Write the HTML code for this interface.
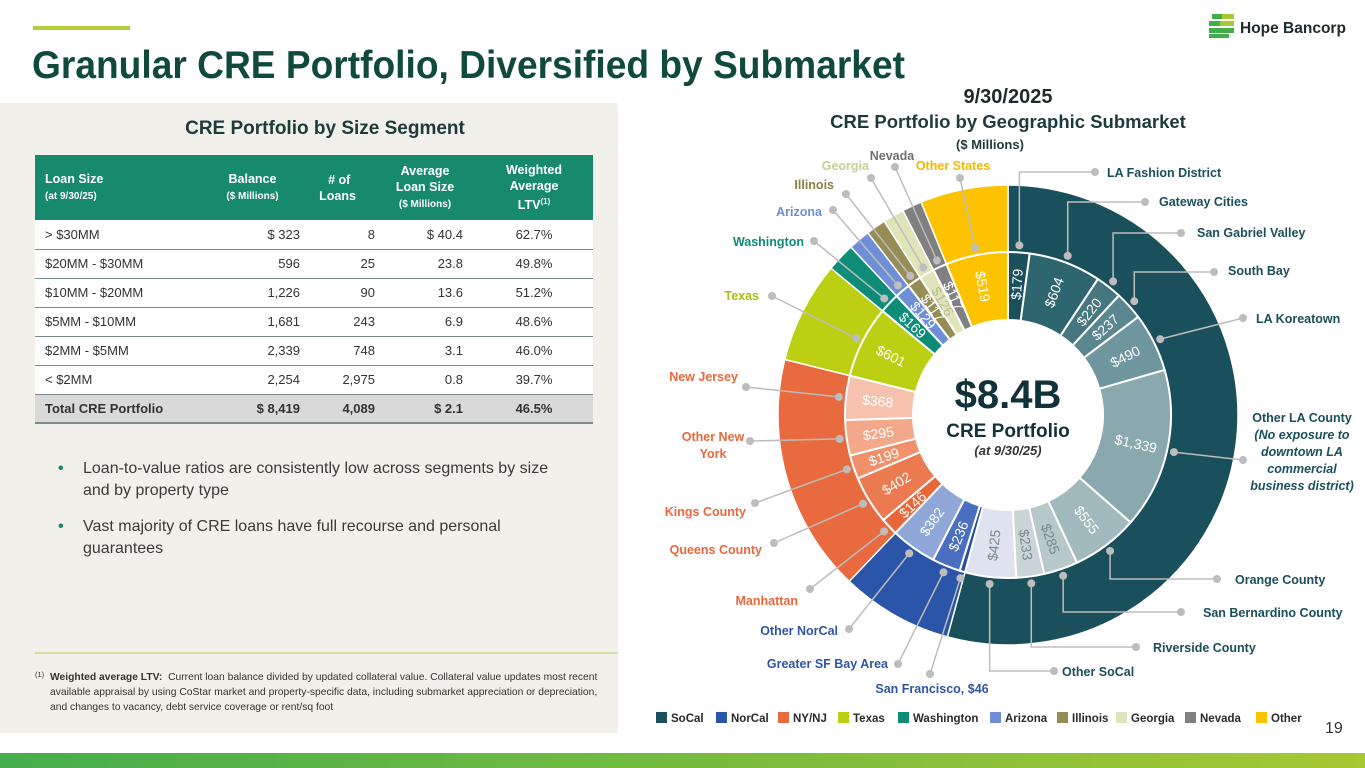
<!DOCTYPE html>
<html><head><meta charset="utf-8">
<style>
*{margin:0;padding:0;box-sizing:border-box}
body{width:1365px;height:768px;overflow:hidden;background:#fff;font-family:"Liberation Sans",sans-serif;position:relative;color:#333}
.abs{position:absolute}
#panel{left:0;top:103px;width:618px;height:630px;background:#f1f0ea}
#tbl{position:absolute;left:35px;top:155px;width:558px;border-collapse:collapse;font-size:13px;color:#333}
#tbl th{background:#17896c;color:#fff;font-weight:bold;font-size:12.5px;height:65px;line-height:16px;vertical-align:middle}
#tbl th small{font-size:10px;font-weight:bold}
#tbl td{height:29px;border-bottom:1.5px solid #7d8a8a;background:#fff;padding:0}
#tbl tr.tot td{background:#d9d9d9;font-weight:bold;border-bottom:2px solid #7d8a8a}
.r{text-align:right}
.c{text-align:center}
.bul{left:58px;font-size:16px;color:#3a3a3a;line-height:22px}
.bul span{position:absolute;left:0;color:#1a8a6e;font-weight:bold}
.bul p{margin-left:25px}
</style></head><body>
<div class="abs" style="left:33px;top:26px;width:97px;height:4px;background:#b5cc3b"></div>
<svg class="abs" style="left:0;top:0" width="1365" height="100">
<text x="32" y="78" font-family="Liberation Sans Narrow,Liberation Sans,sans-serif" font-weight="bold" font-size="39" fill="#0f4a3c" textLength="873" lengthAdjust="spacingAndGlyphs">Granular CRE Portfolio, Diversified by Submarket</text>
<g>
<path d="M1212 14 h22 v5 h-22z M1209 21 h25 v5 h-25z M1209 28 h25 v5 h-25z M1209 34 h20 v4 h-20z" fill="#3fae49"/>
<path d="M1222 14 h12 v5 h-12z M1220 21 h14 v5 h-14z" fill="#a6c832"/>
<text x="1240" y="33" font-weight="bold" font-size="15.5" fill="#1d2a2a">Hope Bancorp</text>
</g>
</svg>
<div id="panel" class="abs"></div>
<div class="abs" style="left:0;width:650px;top:118px;text-align:center;font-size:19px;font-weight:bold;color:#1d3b3a">CRE Portfolio by Size Segment</div>
<table id="tbl">
<tr><th style="text-align:left;padding-left:10px;width:170px">Loan Size<br><small>(at 9/30/25)</small></th><th style="width:95px">Balance<br><small>($ Millions)</small></th><th style="width:75px">&nbsp;# of<br>Loans</th><th style="width:100px">Average<br>Loan Size<br><small>($ Millions)</small></th><th>Weighted<br>Average<br>LTV<sup style="font-size:8px">(1)</sup></th></tr>
<tr><td style="padding-left:10px">&gt; $30MM</td><td class="r">$ 323</td><td class="r">8</td><td class="r" style="padding-right:12px">$ 40.4</td><td class="c">62.7%</td></tr>
<tr><td style="padding-left:10px">$20MM - $30MM</td><td class="r">596</td><td class="r">25</td><td class="r" style="padding-right:12px">23.8</td><td class="c">49.8%</td></tr>
<tr><td style="padding-left:10px">$10MM - $20MM</td><td class="r">1,226</td><td class="r">90</td><td class="r" style="padding-right:12px">13.6</td><td class="c">51.2%</td></tr>
<tr><td style="padding-left:10px">$5MM - $10MM</td><td class="r">1,681</td><td class="r">243</td><td class="r" style="padding-right:12px">6.9</td><td class="c">48.6%</td></tr>
<tr><td style="padding-left:10px">$2MM - $5MM</td><td class="r">2,339</td><td class="r">748</td><td class="r" style="padding-right:12px">3.1</td><td class="c">46.0%</td></tr>
<tr><td style="padding-left:10px">&lt; $2MM</td><td class="r">2,254</td><td class="r">2,975</td><td class="r" style="padding-right:12px">0.8</td><td class="c">39.7%</td></tr>
<tr class="tot"><td style="padding-left:10px">Total CRE Portfolio</td><td class="r">$ 8,419</td><td class="r">4,089</td><td class="r" style="padding-right:12px">$ 2.1</td><td class="c">46.5%</td></tr>
</table>
<div class="abs bul" style="top:458px"><span>•</span><p>Loan-to-value ratios are consistently low across segments by size<br>and by property type</p></div>
<div class="abs bul" style="top:516px"><span>•</span><p>Vast majority of CRE loans have full recourse and personal<br>guarantees</p></div>
<div class="abs" style="left:35px;top:652px;width:583px;height:1.5px;background:#d7dca0"></div>
<div class="abs" style="left:35px;top:670px;width:570px;font-size:10.3px;line-height:15px;color:#333">
<span style="position:absolute;left:0;top:-3px;font-size:7.5px">(1)</span>
<p style="margin-left:15px"><b>Weighted average LTV:</b>&nbsp; Current loan balance divided by updated collateral value. Collateral value updates most recent available appraisal by using CoStar market and property-specific data, including submarket appreciation or depreciation, and changes to vacancy, debt service coverage or rent/sq foot</p></div>

<svg id="chart" class="abs" style="left:0;top:0" width="1365" height="768">
<text x="1008" y="103" text-anchor="middle" font-weight="bold" font-size="20" fill="#1d2a2a">9/30/2025</text>
<text x="1008" y="128" text-anchor="middle" font-weight="bold" font-size="18.5" fill="#1d3b3a">CRE Portfolio by Geographic Submarket</text>
<text x="990" y="149" text-anchor="middle" font-weight="bold" font-size="13" fill="#1d3b3a">($ Millions)</text>
<g id="rings"></g><g id="leaders"></g>
<text x="1008" y="408" text-anchor="middle" font-weight="bold" font-size="40" fill="#12323a">$8.4B</text>
<text x="1008" y="437" text-anchor="middle" font-weight="bold" font-size="19" fill="#12323a">CRE Portfolio</text>
<text x="1008" y="455" text-anchor="middle" font-weight="bold" font-style="italic" font-size="13" fill="#333">(at 9/30/25)</text>
<g id="legend"></g>
<text x="1325" y="733" font-size="16" fill="#333">19</text>
</svg>
<div class="abs" style="left:0;top:753px;width:1365px;height:15px;background:linear-gradient(90deg,#45ae4c,#a6c832)"></div>

<script>
// Data
const submarkets = ["LA Fashion District","Gateway Cities","San Gabriel Valley","South Bay","LA Koreatown","Other LA County","Orange County","San Bernardino County","Riverside County","Other SoCal","San Francisco","Greater SF Bay Area","Other NorCal","Manhattan","Queens County","Kings County","Other New York","New Jersey","Texas","Washington","Arizona","Illinois","Georgia","Nevada","Other States"];
const subValues = [179,604,220,237,490,1339,555,285,233,425,46,236,382,146,402,199,295,368,601,169,129,117,126,117,519];
const subRegion = ["SoCal","SoCal","SoCal","SoCal","SoCal","SoCal","SoCal","SoCal","SoCal","SoCal","NorCal","NorCal","NorCal","NY/NJ","NY/NJ","NY/NJ","NY/NJ","NY/NJ","Texas","Washington","Arizona","Illinois","Georgia","Nevada","Other"];
const regions = ["SoCal","NorCal","NY/NJ","Texas","Washington","Arizona","Illinois","Georgia","Nevada","Other"];

// Styles
const regionColor = {"SoCal":"#1a4f5c","NorCal":"#2a55a8","NY/NJ":"#e96a3e","Texas":"#bccf12","Washington":"#0f8c78","Arizona":"#6e8fd8","Illinois":"#968c55","Georgia":"#dfe5b8","Nevada":"#808080","Other":"#fdc300"};
const subColor = ["#1b4f5c","#2e6670","#46767f","#5a868f","#6f969e","#8aa9ae","#a2babd","#b6c8ca","#c9d5d6","#dee3ef","#2a4fa0","#4a6fc0","#8fa8d8","#e8673a","#ec7a50","#f0916c","#f3a88a","#f6c1ad","#bccf12","#0f8c78","#6e8fd8","#968c55","#dfe5b8","#808080","#fdc300"];
const subText = ["#fff","#fff","#fff","#fff","#fff","#fff","#fff","#7a878a","#7a878a","#7a878a","#fff","#fff","#fff","#fff","#fff","#fff","#fff","#fff","#fff","#fff","#fff","#fff","#b8c090","#fff","#fff"];
const labelColor = {"SoCal":"#1a4f5c","NorCal":"#2f56a6","NY/NJ":"#e8683c","Texas":"#a9bc10","Washington":"#0f8c78","Arizona":"#6e8fd8","Illinois":"#8a8040","Georgia":"#c7d190","Nevada":"#707070","Other":"#f4b800"};
// label layout: [textX, textY, anchor, dotX, dotY, elbow]
const labelPos = [[1107,177,"start",1095,172,1],[1159,206,"start",1145,202,1],[1197,237,"start",1181,233,1],[1228,275,"start",1214,272,1],[1256,323,"start",1243,318,0],[1302,422,"middle",1243,460,0],[1235,584,"start",1217,579,1],[1203,617,"start",1181,612,1],[1153,652,"start",1136,647,1],[1062,676,"start",1054,671,1],[932,693,"middle",930,674,0],[888,668,"end",898,664,0],[838,635,"end",849,629,0],[798,605,"end",810,589,0],[762,554,"end",774,543,0],[746,516,"end",755,503,0],[713,441,"middle",750,441,0],[738,381,"end",746,387,0],[759,300,"end",772,296,0],[804,246,"end",814,241,0],[822,216,"end",833,210,0],[834,189,"end",846,194,0],[869,170,"end",871,178,0],[892,160,"middle",895,167,0],[953,170,"middle",960,178,0]];

const NS="http://www.w3.org/2000/svg";
const cx=1008, cy=415, R=230, R1=163, R0=95;
const total = subValues.reduce((a,b)=>a+b,0);
const angOf = v => v/total*2*Math.PI - Math.PI/2;
function pt(r,a){return [cx+r*Math.cos(a), cy+r*Math.sin(a)];}
function arc(r0,r1,a0,a1){
  const large=(a1-a0)>Math.PI?1:0;
  const p0=pt(r1,a0),p1=pt(r1,a1),p2=pt(r0,a1),p3=pt(r0,a0);
  return `M${p0} A${r1},${r1} 0 ${large} 1 ${p1} L${p2} A${r0},${r0} 0 ${large} 0 ${p3}Z`;
}
function mk(tag,attrs,parent){const e=document.createElementNS(NS,tag);for(const k in attrs)e.setAttribute(k,attrs[k]);parent.appendChild(e);return e;}
const rings=document.getElementById('rings'), leaders=document.getElementById('leaders');

// outer ring by region
let cum=0;
regions.forEach(rg=>{
  const v=subValues.reduce((s,x,i)=>s+(subRegion[i]===rg?x:0),0);
  const a0=angOf(cum), a1=angOf(cum+v); cum+=v;
  const p=mk('path',{d:arc(R1,R,a0,a1),fill:regionColor[rg],stroke:'#fff','stroke-width':1.5},rings);
  
  
});
// inner ring
cum=0;
subValues.forEach((v,i)=>{
  const a0=angOf(cum), a1=angOf(cum+v); cum+=v;
  const p=mk('path',{d:arc(R0,R1,a0,a1),fill:subColor[i],stroke:'#fff','stroke-width':2},rings);
  
  
  const am=(a0+a1)/2;
  if(v>=100){
    const [tx,ty]=pt((R0+R1)/2+2,am);
    let deg=am*180/Math.PI; if(Math.cos(am)<0) deg+=180;
    const t=mk('text',{x:tx,y:ty,'text-anchor':'middle','dominant-baseline':'central','font-size':14,fill:subText[i],transform:`rotate(${deg} ${tx} ${ty})`},rings);
    t.textContent='$'+v.toLocaleString('en-US');
    
    
  }
  // leader
  const L=labelPos[i];
  const [ax,ay]=pt(170,am);
  const pts = L[5] ? `${L[3]},${L[4]} ${ax},${L[4]} ${ax},${ay}` : `${L[3]},${L[4]} ${ax},${ay}`;
  const pl=mk('polyline',{points:pts,fill:'none',stroke:'#bdbdbd','stroke-width':1.5},leaders);
  
  
  mk('circle',{cx:L[3],cy:L[4],r:4,fill:'#bdbdbd'},leaders);
  mk('circle',{cx:L[5]?ax:ax,cy:ay,r:4,fill:'#bdbdbd'},leaders);
  const col=labelColor[subRegion[i]];
  const t=mk('text',{x:L[0],y:L[1],'text-anchor':L[2],'font-size':12.5,'font-weight':'bold',fill:col},leaders);
  
  
  if(submarkets[i]==="Other LA County"){
    const lines=["Other LA County","(No exposure to","downtown LA","commercial","business district)"];
    lines.forEach((ln,k)=>{const ts=mk('tspan',{x:L[0],dy:k?17:0},t); if(k) ts.setAttribute('font-style','italic'); ts.textContent=ln;});
  } else if(submarkets[i]==="Other New York"){
    ["Other New","York"].forEach((ln,k)=>{const ts=mk('tspan',{x:L[0],dy:k?17:0},t);ts.textContent=ln;});
  } else if(submarkets[i]==="San Francisco"){
    t.textContent="San Francisco, $46";
  } else t.textContent=submarkets[i];
});
// legend
const lg=document.getElementById('legend');
const legX=[656,716,778,838,898,990,1057,1116,1185,1256];
regions.forEach((rg,i)=>{
  const g=mk('g',{},lg);
  
  
  mk('rect',{x:legX[i],y:712,width:11,height:11,fill:regionColor[rg]},g);
  const t=mk('text',{x:legX[i]+15,y:722,'font-size':11.5,'font-weight':'bold',fill:'#2a2a2a'},g);
  t.textContent=rg;
});
</script>
</body></html>
